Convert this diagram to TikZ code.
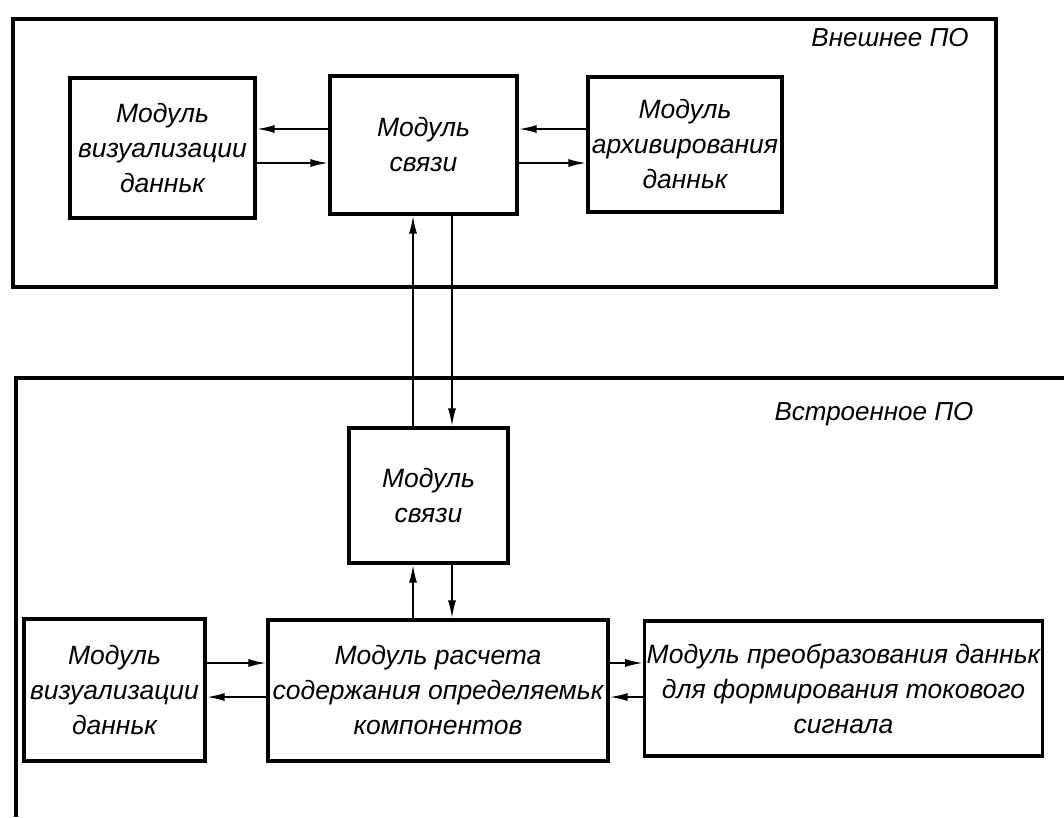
\documentclass[tikz,border=0pt]{standalone}
\usepackage{fontspec}
\setmainfont{Liberation Sans}
\usetikzlibrary{arrows.meta}
\tikzset{
  module/.style={
    draw, line width=3.2pt, align=center, inner sep=2pt,
    font=\itshape\fontsize{26.5}{35}\selectfont},
  frame/.style={draw, line width=3.2pt},
  flow/.style={-{Latex[length=18pt,width=8pt]}, line width=2pt},
  tag/.style={font=\itshape\fontsize{26}{30}\selectfont},
}

\begin{document}
\begin{tikzpicture}[x=1pt, y=-1pt]
  \useasboundingbox (0,0) rectangle (1064,817);
  \fill[white] (0,0) rectangle (1064,817);

  \draw[frame] (13,19) rectangle (996,287);
  \node[tag] (exttag) at (890,38) {Внешнее ПО};
  \draw[frame] (1064,378) -- (16,378) -- (16,817);
  \node[tag] (embtag) at (874,414) {Встроенное ПО};

  \node[module, minimum width=185pt, minimum height=140pt] (viz1) at (162.5,148)
    {Модуль\\визуализации\\данньк};
  \node[module, minimum width=187pt, minimum height=138pt] (link1) at (423.5,145)
    {Модуль\\связи};
  \node[module, minimum width=194pt, minimum height=135pt] (arch) at (685,144.5)
    {Модуль\\архивирования\\данньк};
  \node[module, minimum width=159pt, minimum height=135pt] (link2) at (428.5,495.5)
    {Модуль\\связи};
  \node[module, minimum width=181pt, minimum height=142pt] (viz2) at (114.5,690)
    {Модуль\\визуализации\\данньк};
  \node[module, minimum width=340pt, minimum height=141pt] (calc) at (438,690.5)
    {Модуль расчета\\содержания определяемьк\\компонентов};
  \node[module, minimum width=393pt, minimum height=135pt] (conv) at (843.5,688.5)
    {Модуль преобразования данньк\\для формирования токового\\сигнала};

  \coordinate (topA) at (0,129);
  \coordinate (topB) at (0,163);
  \coordinate (lowA) at (0,663);
  \coordinate (lowB) at (0,697);
  \coordinate (upx) at (413,0);
  \coordinate (dnx) at (452,0);

  \draw[flow] (link1.west |- topA) -- (viz1.east |- topA);
  \draw[flow] (viz1.east |- topB) -- (link1.west |- topB);
  \draw[flow] (arch.west |- topA) -- (link1.east |- topA);
  \draw[flow] (link1.east |- topB) -- (arch.west |- topB);

  \draw[flow] (upx |- link2.north) -- (upx |- link1.south);
  \draw[flow] (dnx |- link1.south) -- (dnx |- link2.north);
  \draw[flow] (upx |- calc.north) -- (upx |- link2.south);
  \draw[flow] (dnx |- link2.south) -- (dnx |- calc.north);

  \draw[flow] (viz2.east |- lowA) -- (calc.west |- lowA);
  \draw[flow] (calc.west |- lowB) -- (viz2.east |- lowB);
  \draw[flow] (calc.east |- lowA) -- (conv.west |- lowA);
  \draw[flow] (conv.west |- lowB) -- (calc.east |- lowB);
\end{tikzpicture}
\end{document}
